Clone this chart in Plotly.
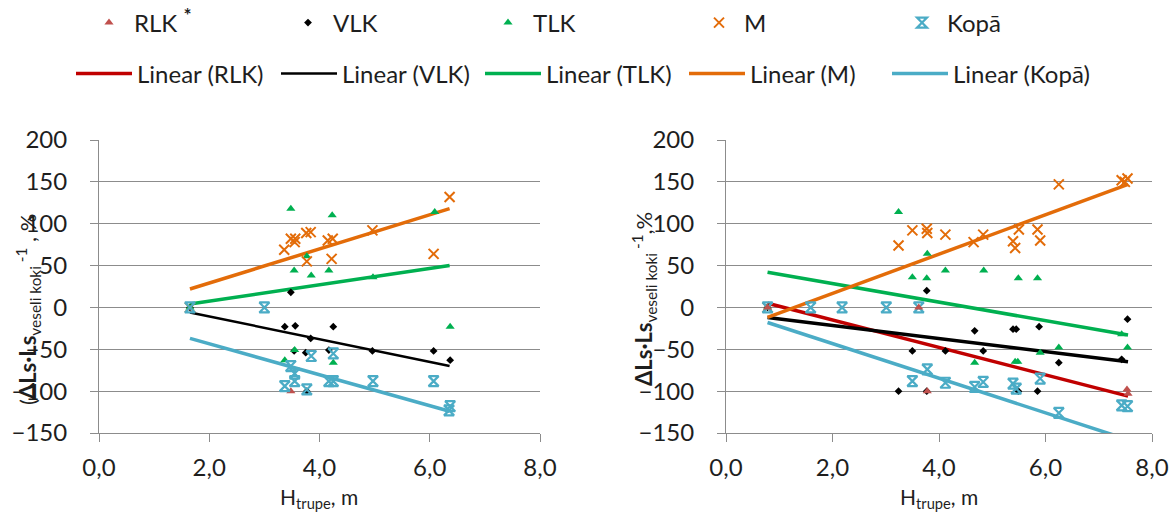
import plotly.graph_objects as go

# ---------------- data: left panel ----------------
H_RLK_L = [3.48]
RLK_L = [-100]

H_VLK_L = [1.65, 3.48, 3.37, 3.56, 4.25, 3.84, 3.75, 3.54, 4.17, 4.96, 6.07, 6.37, 3.77]
VLK_L = [0, 18, -23, -22, -23, -37, -54, -52, -51, -52, -52, -63, -100]

H_TLK_L = [1.65, 3.48, 4.23, 6.09, 3.54, 4.17, 3.85, 3.77, 4.97, 6.37, 3.55, 3.37, 4.25]
TLK_L = [0, 118, 110, 114, 44, 44, 38, 61, 36, -23, -51, -63, -66]

H_M_L = [1.65, 6.36, 6.07, 4.96, 4.24, 4.15, 4.22, 3.84, 3.76, 3.77, 3.48, 3.56, 3.55, 3.36]
M_L = [0, 132, 64, 92, 82, 80, 58, 90, 89, 55, 82, 82, 78, 69]

H_KOPA_L = [1.65, 3.0, 6.37, 6.35, 6.07, 4.97, 4.17, 4.25, 3.85, 4.25, 3.55, 3.55, 3.48, 3.37, 3.77]
KOPA_L = [0, 0, -118, -123, -88, -88, -88, -88, -58, -55, -79, -88, -70, -94, -98]

# linear trend end points, left panel
TREND_H_L = [1.65, 6.36]
TREND_VLK_L = [-6, -70]
TREND_TLK_L = [4, 50]
TREND_M_L = [22, 118]
TREND_KOPA_L = [-37, -124]

# ---------------- data: right panel ----------------
H_RLK_R = [0.78, 3.62, 3.78, 7.53, 7.55]
RLK_R = [0, 0, -100, -98, -103]

H_VLK_R = [0.78, 3.77, 3.50, 4.12, 4.83, 4.67, 5.39, 5.45, 5.88, 6.25, 7.54, 7.43, 3.24, 3.77, 5.49, 5.85]
VLK_R = [0, 20, -52, -52, -52, -28, -26, -26, -23, -66, -14, -62, -100, -100, -100, -100]

H_TLK_R = [0.78, 3.24, 3.78, 3.50, 3.77, 4.12, 4.84, 5.49, 5.85, 4.67, 5.43, 5.48, 5.90, 6.25, 7.43, 7.54]
TLK_R = [0, 114, 64, 36, 35, 44, 44, 35, 35, -66, -65, -65, -54, -48, -32, -48]

H_M_R = [0.78, 3.24, 3.50, 3.77, 3.78, 4.12, 4.65, 4.83, 5.39, 5.43, 5.50, 5.85, 5.90, 6.25, 7.43, 7.49, 7.54]
M_R = [0, 74, 92, 94, 89, 87, 78, 87, 79, 71, 93, 93, 80, 147, 152, 150, 154]

H_KOPA_R = [0.78, 1.59, 2.18, 3.01, 3.62, 3.78, 3.50, 4.12, 4.67, 4.83, 5.39, 5.45, 5.90, 6.25, 7.43, 7.54]
KOPA_R = [0, 0, 0, 0, 0, -74, -88, -90, -95, -89, -91, -97, -85, -126, -117, -118]

# linear trend end points, right panel
TREND_H_R = [0.78, 7.55]
TREND_RLK_R = [5, -106]
TREND_VLK_R = [-12, -65]
TREND_TLK_R = [42, -33]
TREND_M_R = [-12, 147]
TREND_KOPA_R = [-18, -158]

# ---------------- styling ----------------
FONT = "Lato"
TXT = "#1e1e1e"
GRID = "#8c8c8c"
C_RLK_M, C_RLK = "#c0504d", "#c00000"
C_VLK = "#000000"
C_TLK = "#00b050"
C_M = "#e36c09"
C_KOPA = "#4bacc6"

MARKERS = {
    "RLK": dict(symbol="triangle-up", size=8, color=C_RLK_M),
    "VLK": dict(symbol="diamond", size=6, color=C_VLK),
    "TLK": dict(symbol="triangle-up", size=8, color=C_TLK),
    "M": dict(symbol="x-thin-open", size=10, color=C_M, line=dict(color=C_M, width=2)),
    "Kopā": dict(symbol="hourglass-open", size=10, color=C_KOPA, line=dict(color=C_KOPA, width=2.2)),
}
LEGEND_NAMES = {
    "RLK": "RLK <sup><span style='font-size:19px'><b>*</b></span></sup>",
    "VLK": "VLK", "TLK": "TLK", "M": "M", "Kopā": "Kopā",
}
ORDER = ["RLK", "VLK", "TLK", "M", "Kopā"]
# legend entry widths (px) for the marker row and the trend-line row
POINT_ENTRY_W = {"RLK": 144, "VLK": 145, "TLK": 156, "M": 148, "Kopā": 144}
LINE_ENTRY_W = {"RLK": 134, "VLK": 133, "TLK": 133, "M": 132, "Kopā": 133}

fig = go.Figure()


def add_points(key, x, y, xa, ya, show):
    fig.add_trace(go.Scatter(
        x=x, y=y, xaxis=xa, yaxis=ya, mode="markers", name=LEGEND_NAMES[key],
        marker=MARKERS[key], showlegend=show, legend="legend",
        legendwidth=POINT_ENTRY_W[key],
        legendrank=ORDER.index(key) + 1, cliponaxis=False, hoverinfo="skip"))


def add_trend(key, x, y, xa, ya, color, width, show):
    fig.add_trace(go.Scatter(
        x=x, y=y, xaxis=xa, yaxis=ya, mode="lines", name=f"Linear ({key})",
        line=dict(color=color, width=width), showlegend=show, legend="legend2",
        legendwidth=LINE_ENTRY_W[key],
        legendrank=ORDER.index(key) + 11, hoverinfo="skip"))


# trend lines (drawn beneath the markers)
add_trend("VLK", TREND_H_L, TREND_VLK_L, "x", "y", C_VLK, 2.5, True)
add_trend("TLK", TREND_H_L, TREND_TLK_L, "x", "y", C_TLK, 3.5, True)
add_trend("M", TREND_H_L, TREND_M_L, "x", "y", C_M, 3.5, True)
add_trend("Kopā", TREND_H_L, TREND_KOPA_L, "x", "y", C_KOPA, 3.5, True)
add_trend("RLK", TREND_H_R, TREND_RLK_R, "x2", "y2", C_RLK, 3.5, True)
add_trend("VLK", TREND_H_R, TREND_VLK_R, "x2", "y2", C_VLK, 3.5, False)
add_trend("TLK", TREND_H_R, TREND_TLK_R, "x2", "y2", C_TLK, 3.5, False)
add_trend("M", TREND_H_R, TREND_M_R, "x2", "y2", C_M, 3.5, False)
add_trend("Kopā", TREND_H_R, TREND_KOPA_R, "x2", "y2", C_KOPA, 3.5, False)

# points
add_points("RLK", H_RLK_L, RLK_L, "x", "y", True)
add_points("VLK", H_VLK_L, VLK_L, "x", "y", True)
add_points("TLK", H_TLK_L, TLK_L, "x", "y", True)
add_points("M", H_M_L, M_L, "x", "y", True)
add_points("Kopā", H_KOPA_L, KOPA_L, "x", "y", True)
add_points("VLK", H_VLK_R, VLK_R, "x2", "y2", False)
add_points("TLK", H_TLK_R, TLK_R, "x2", "y2", False)
add_points("M", H_M_R, M_R, "x2", "y2", False)
add_points("Kopā", H_KOPA_R, KOPA_R, "x2", "y2", False)
add_points("RLK", H_RLK_R, RLK_R, "x2", "y2", False)

W, H = 1172, 513


def px_x(p):
    return p / W


def px_y(p):
    return 1 - p / H


TICKFONT = dict(family=FONT, size=24, color=TXT)
xcommon = dict(range=[0, 8], dtick=2, tick0=0, tickformat=".1f", showgrid=False, zeroline=False,
               showline=True, linecolor=GRID, linewidth=1, ticks="outside", ticklen=8,
               tickcolor=GRID, tickfont=TICKFONT, ticklabelstandoff=5,
               ticklabeloverflow="allow")
ycommon = dict(range=[-150, 200], dtick=50, tick0=0, showgrid=True, gridcolor=GRID, gridwidth=1,
               zeroline=False, showline=True, linecolor=GRID, linewidth=1, ticks="outside",
               ticklen=8, tickcolor=GRID, tickfont=TICKFONT, ticklabelstandoff=18,
               ticklabeloverflow="allow")

ydom = [px_y(433), px_y(140)]
LEGFONT = dict(family=FONT, size=24, color=TXT)
fig.update_layout(
    width=W, height=H, margin=dict(l=0, r=0, t=0, b=0, autoexpand=False),
    paper_bgcolor="white", plot_bgcolor="white", separators=", ",
    font=dict(family=FONT, size=20, color=TXT),
    xaxis=dict(domain=[px_x(99), px_x(540)], anchor="y", **xcommon),
    yaxis=dict(domain=ydom, anchor="x", **ycommon),
    xaxis2=dict(domain=[px_x(726), px_x(1152)], anchor="y2", **xcommon),
    yaxis2=dict(domain=ydom, anchor="x2", **ycommon),
    legend=dict(orientation="h", x=px_x(84), xanchor="left", y=px_y(23), yanchor="middle",
                entrywidthmode="pixels", itemwidth=40,
                font=LEGFONT, bgcolor="rgba(0,0,0,0)"),
    legend2=dict(orientation="h", x=px_x(71), xanchor="left", y=px_y(74), yanchor="middle",
                 entrywidthmode="pixels", itemwidth=56,
                 font=LEGFONT, bgcolor="rgba(0,0,0,0)"),
    showlegend=True,
)

YTITLE_L = "(<b>ΔLs·Ls</b><sub>veseli koki</sub><sup> -1</sup> , %"
YTITLE_R = "<b>ΔLs·Ls</b><sub>veseli koki</sub><sup> -1</sup>,%"
XTITLE = "H<sub>trupe</sub>, m"
TITLEFONT = dict(family=FONT, size=22, color=TXT)

fig.add_annotation(text=YTITLE_L, x=px_x(28), y=px_y(310), xref="paper", yref="paper",
                   textangle=-90, showarrow=False, font=TITLEFONT,
                   xanchor="center", yanchor="middle")
fig.add_annotation(text=YTITLE_R, x=px_x(644), y=px_y(299), xref="paper", yref="paper",
                   textangle=-90, showarrow=False, font=TITLEFONT,
                   xanchor="center", yanchor="middle")
fig.add_annotation(text=XTITLE, x=px_x(319), y=px_y(498), xref="paper", yref="paper",
                   showarrow=False, font=dict(family=FONT, size=21, color=TXT),
                   xanchor="center", yanchor="middle")
fig.add_annotation(text=XTITLE, x=px_x(939), y=px_y(498), xref="paper", yref="paper",
                   showarrow=False, font=dict(family=FONT, size=21, color=TXT),
                   xanchor="center", yanchor="middle")

fig.write_html("out.html")
